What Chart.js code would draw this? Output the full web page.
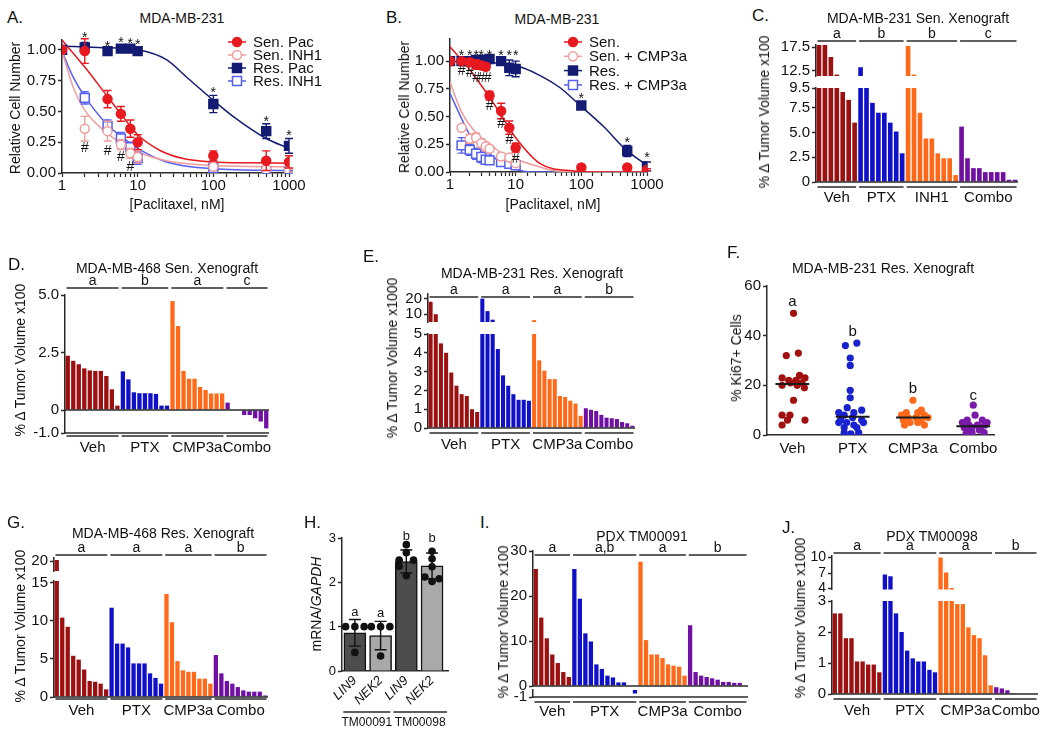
<!DOCTYPE html>
<html lang="en">
<head>
<meta charset="UTF-8">
<title>Figure</title>
<style>
  body { margin: 0; background: #fff; }
  #fig { position: relative; width: 1050px; height: 733px; overflow: hidden;
         font-family: 'Liberation Sans', Arial, Helvetica, sans-serif; color: #111; }
  .box { position: absolute; }
  .t { position: absolute; white-space: nowrap; line-height: 1; z-index: 2; }
</style>
</head>
<body>
<div id="fig"></div>

<script src="https://cdn.jsdelivr.net/npm/chart.js@4.4.1/dist/chart.umd.min.js"></script>
<script>
// ---------- A: MDA-MB-231, paclitaxel / INH1 dose response
const doseA = [1, 2, 4, 6, 8, 10, 100, 500, 1000];
const senPacA = [1.00, 0.99, 0.60, 0.48, 0.36, 0.25, 0.14, 0.10, 0.09];
const senPacErrA = [0, 0.10, 0.07, 0.06, 0.07, 0.06, 0.04, 0.08, 0.05];
const senInhA = [1.00, 0.36, 0.34, 0.23, 0.16, 0.13, 0.05, 0.03, 0.02];
const senInhErrA = [0, 0.10, 0.08, 0.04, 0.04, 0.05, 0.02, 0.01, 0.01];
const resPacA = [1.00, 1.02, 0.99, 1.01, 1.01, 0.99, 0.56, 0.34, 0.22];
const resPacErrA = [0, 0.04, 0.02, 0.03, 0.02, 0.02, 0.07, 0.06, 0.06];
const resInhA = [1.00, 0.61, 0.38, 0.28, 0.21, 0.12, 0.04, 0.01, 0.01];
const resInhErrA = [0, 0.05, 0.05, 0.05, 0.04, 0.05, 0.02, 0.01, 0.01];
// fitted curves
const fitXSenPacA = [1, 2, 4, 6, 10, 19.5, 40, 100, 300, 1000];
const fitYSenPacA = [1.08, 0.86, 0.62, 0.48, 0.31, 0.185, 0.117, 0.09, 0.083, 0.08];
const fitXSenInhA = [1, 1.4, 2, 4, 6, 10, 24, 100, 1000];
const fitYSenInhA = [0.99, 0.70, 0.51, 0.32, 0.245, 0.17, 0.10, 0.06, 0.05];
const fitXResPacA = [1, 3, 10, 24, 44, 100, 182, 500, 1000];
const fitYResPacA = [1.03, 1.02, 1.00, 0.92, 0.78, 0.59, 0.46, 0.28, 0.20];
const fitXResInhA = [1, 1.4, 2, 4, 6, 10, 24, 100, 1000];
const fitYResInhA = [0.99, 0.78, 0.62, 0.39, 0.30, 0.20, 0.09, 0.035, 0.02];
const starXA = [2, 4, 6, 8, 10, 100, 500, 1000];
const starYA = [1.12, 1.05, 1.08, 1.07, 1.06, 0.67, 0.44, 0.32];
const hashXA = [2, 4, 6, 8];
const hashYA = [0.20, 0.18, 0.13, 0.05];

// ---------- B: MDA-MB-231, paclitaxel +/- CMP3a
const doseB = [1, 1.5, 2, 2.5, 3, 3.5, 4, 6, 8, 10, 100, 500, 1000];
const senB = [1.00, 1.00, 0.99, 0.97, 0.96, 0.95, 0.69, 0.55, 0.40, 0.22, 0.04, 0.04, 0.02];
const senErrB = [0, 0.02, 0.03, 0.04, 0.03, 0.03, 0.04, 0.07, 0.06, 0.04, 0.01, 0.02, 0.01];
const resB = [1.00, 1.00, 1.00, 1.01, 1.01, 1.01, 1.02, 1.00, 0.94, 0.93, 0.60, 0.19, 0.05];
const resErrB = [0, 0.02, 0.02, 0.02, 0.02, 0.02, 0.02, 0.02, 0.07, 0.07, 0.03, 0.05, 0.04];
const doseB2 = [1.5, 2, 2.5, 3, 3.5, 4, 6, 8, 10];
const senCmpB = [0.40, 0.30, 0.31, 0.26, 0.23, 0.21, 0.14, 0.13, 0.08];
const senCmpErrB = [0.02, 0.04, 0.04, 0.04, 0.04, 0.03, 0.03, 0.03, 0.02];
const resCmpB = [0.24, 0.20, 0.165, 0.135, 0.11, 0.105, 0.09, 0.075, 0.06];
const resCmpErrB = [0.07, 0.05, 0.05, 0.05, 0.03, 0.03, 0.03, 0.03, 0.02];
const fitXSenB = [1, 1.9, 3, 3.93, 5.79, 7.75, 9.7, 23.6, 76, 200, 1000];
const fitYSenB = [1.13, 0.94, 0.78, 0.68, 0.53, 0.41, 0.32, 0.075, 0.01, 0, 0];
const fitXSenCmpB = [1, 1.45, 1.9, 2.87, 3.93, 5.79, 9.7, 23.6, 42, 1000];
const fitYSenCmpB = [0.81, 0.56, 0.44, 0.32, 0.26, 0.18, 0.12, 0.045, 0.01, 0];
const fitXResB = [1, 9.8, 23.6, 47.5, 96, 218, 480, 1000];
const fitYResB = [1.00, 0.96, 0.87, 0.76, 0.60, 0.41, 0.20, 0.06];
const fitXResCmpB = [1, 1.45, 1.9, 2.87, 3.93, 5.79, 9.7, 16.9, 1000];
const fitYResCmpB = [0.71, 0.50, 0.36, 0.23, 0.17, 0.09, 0.03, 0, 0];
const starXB = [1.5, 2, 2.5, 3, 4, 6, 8, 10, 100, 500, 1000];
const starYB = [1.075, 1.075, 1.075, 1.075, 1.075, 1.075, 1.075, 1.075, 0.68, 0.29, 0.15];
const hashXB = [1.5, 2, 2.5, 3, 3.75, 4, 6, 8, 10];
const hashYB = [0.91, 0.89, 0.85, 0.85, 0.85, 0.59, 0.43, 0.29, 0.12];

// ---------- waterfall panels (% change in tumour volume, one bar per tumour)
const vehC = [18, 18, 15.4, 11.6, 9.1, 8.3, 6.0];
const ptxC = [13.2, 10.5, 8.0, 7.0, 7.0, 6.0, 5.1, 2.9];
const inhC = [17.8, 11.6, 7.0, 4.4, 4.4, 2.9, 2.4, 2.4, 0.7];
const comboC = [5.6, 2.4, 1.4, 1.4, 1.0, 1.0, 1.0, 1.0, 0.23, 0.23];

const vehD = [2.36, 2.14, 1.99, 1.81, 1.72, 1.70, 1.70, 1.48, 0.9, 0.19];
const ptxD = [1.68, 1.33, 0.77, 0.73, 0.73, 0.73, 0.70, 0.19, 0.19];
const cmpD = [4.74, 3.65, 1.70, 1.36, 1.36, 1.0, 0.87, 0.72, 0.72, 0.72];
const comboD = [0.32, 0.02, -0.02, -0.22, -0.22, -0.36, -0.5, -0.8];

const vehE = [18, 10, 4.5, 4.0, 2.95, 2.25, 1.8, 1.7, 1.0, 0.85];
const ptxE = [20, 12, 6.5, 4.2, 2.8, 2.25, 1.8, 1.5, 1.5, 1.45];
const cmpE = [6.2, 3.6, 3.05, 2.6, 2.6, 1.7, 1.65, 1.45, 1.3, 0.65];
const comboE = [1.05, 0.97, 0.9, 0.7, 0.55, 0.52, 0.48, 0.32, 0.25, 0.12];

const vehG = [20.2, 10.4, 9.2, 5.4, 4.9, 3.6, 2.1, 2.0, 1.75, 1.0];
const ptxG = [11.7, 7.0, 7.0, 6.5, 4.4, 4.4, 4.4, 3.1, 2.5, 1.75];
const cmpG = [13.5, 9.8, 4.7, 3.5, 3.3, 3.3, 2.4, 2.4, 1.75];
const comboG = [5.5, 3.1, 2.1, 1.75, 1.3, 0.87, 0.7, 0.7, 0.7, 0.2];

const vehI = [26.0, 15.2, 10.6, 7.0, 5.1, 3.1, 2.0];
const ptxI = [26.0, 19.4, 11.7, 9.9, 4.8, 3.8, 2.3, 1.9, 0.8, 0.8, 0, -0.5];
const cmpI = [27.6, 10.2, 7.0, 7.0, 6.2, 4.8, 4.5, 4.3, 2.3];
const comboI = [13.5, 3.1, 2.3, 2.0, 1.7, 1.4, 0.9, 0.9, 0.7, 0.7, 0.1];

const vehJ = [2.6, 2.6, 1.8, 1.8, 1.05, 1.05, 0.95, 0.95, 0.7];
const ptxJ = [6.7, 6.4, 2.6, 2.0, 1.4, 1.15, 1.05, 1.05, 0.78, 0.7];
const cmpJ = [10, 7.1, 4.1, 2.9, 2.9, 2.15, 1.9, 1.8, 1.25, 0.28];
const comboJ = [0.22, 0.18, 0.12, 0.03, 0.02, 0.02, 0.02, 0.02];

// ---------- F: Ki67 dot plot
const groupsF = ['Veh', 'PTX', 'CMP3a', 'Combo'];
const vehF = [49, 33, 32, 24, 23, 23, 22, 22, 21, 21, 20, 20, 19, 14, 8, 8, 6, 6, 4];
const vehFx = [0.02, 0.10, -0.10, 0.12, 0.21, -0.17, -0.06, 0.06, -0.03, 0.16, -0.17, 0.08, 0.20, 0.02, -0.17, -0.04, -0.08, 0.21, -0.17];
const ptxF = [37, 36, 31, 28, 18, 15, 11, 10, 9, 9, 8, 7, 6, 6, 5, 5, 5, 4, 3, 3, 1, 1, 0.5];
const ptxFx = [0.07, -0.12, -0.04, -0.04, -0.04, -0.04, -0.09, 0.15, -0.23, 0.02, -0.14, 0.0, -0.2, 0.15, -0.23, -0.1, 0.18, 0.02, -0.14, 0.07, -0.14, 0.1, -0.03];
const cmpF = [14, 10, 9, 9, 8, 8, 7, 7, 7, 6, 6, 5, 5, 4, 4];
const cmpFx = [0.0, 0.14, -0.11, 0.08, -0.19, 0.19, -0.08, 0.05, 0.25, -0.16, 0.14, -0.05, 0.08, -0.14, 0.19];
const comboF = [12, 8, 6, 6, 5, 5, 4, 4, 4, 3, 3, 3, 2, 2, 1, 1, 0.5];
const comboFx = [0.0, 0.03, -0.1, 0.15, -0.18, 0.23, -0.07, 0.07, 0.2, -0.15, -0.02, 0.12, -0.07, 0.1, -0.02, 0.18, -0.12];
const medianF = [20.5, 7.3, 7.0, 3.5];
const letterF = ['a', 'b', 'b', 'c'];
const letterYF = [53.5, 41.5, 18.5, 15.8];

// ---------- H: LIN9 / NEK2 mRNA in PDX lines
const genesH = ['LIN9', 'NEK2', 'LIN9', 'NEK2'];
const modelsH = ['TM00091', 'TM00098'];
const meanH = [0.86, 0.80, 2.47, 2.37];
const sdH = [0.30, 0.32, 0.26, 0.29];
const dotH = [[1.0, 1.0, 1.0, 0.42], [1.0, 1.0, 1.0, 0.34], [2.85, 2.67, 2.5, 2.5, 2.36, 2.15], [2.7, 2.53, 2.35, 2.12, 2.08, 2.02]];
const dotHx = [[-0.36, 0, 0.36, 0], [-0.36, 0, 0.36, 0], [0, 0, -0.28, 0.28, -0.28, 0], [0, 0, 0, -0.28, 0.28, 0]];
const letterH = ['a', 'a', 'b', 'b'];
const letterYH = [1.33, 1.30, 3.03, 2.98];

// ---------- styles
const FONT = "'Liberation Sans', Arial, Helvetica, sans-serif";
const RED = '#e8191f', PINK = '#f29c9c', NAVY = '#131b73', BLUE = '#5660ee';
const VEH = '#9b1010', PTXC = '#1010c8', ORG = '#ff6a1a', PUR = '#6f10a2';
const INK = '#111', AX = '#2a2a2a';

Chart.defaults.font.family = FONT;
Chart.defaults.font.size = 15;
Chart.defaults.color = INK;
Chart.defaults.animation = false;
Chart.defaults.maintainAspectRatio = false;
Chart.defaults.plugins.legend.display = false;
Chart.defaults.plugins.tooltip.enabled = false;

const fig = document.getElementById('fig');

function box(l, t, w, h) {
    const d = document.createElement('div');
    d.className = 'box';
    Object.assign(d.style, {left: l + 'px', top: t + 'px', width: w + 'px', height: h + 'px'});
    const c = document.createElement('canvas');
    d.appendChild(c);
    fig.appendChild(d);
    return c;
}

function text(s, x, y, o = {}) {
    const d = document.createElement('div');
    d.className = 't';
    d.innerHTML = s;
    let tr = o.left ? 'translate(0,-50%)' : 'translate(-50%,-50%)';
    if (o.rot) tr += ' rotate(-90deg)';
    Object.assign(d.style, {left: x + 'px', top: y + 'px', fontSize: (o.size || 14) + 'px', transform: tr});
    fig.appendChild(d);
}

function yAxis(min, max, ticks, fmt, w, size = 15) {
    return {
        min, max,
        afterBuildTicks: s => { s.ticks = ticks.map(v => ({value: v})); },
        afterFit: s => { s.width = w; },
        ticks: {callback: v => fmt(v), padding: 2, autoSkip: false, font: {size}, color: INK},
        grid: {drawOnChartArea: false, color: AX, tickLength: 4, tickWidth: 1.5},
        border: {color: AX, width: 1.5}
    };
}

const fmt1 = v => v === 0 ? '0' : v.toFixed(1);

function drawMarker(ctx, x, y, s) {
    ctx.beginPath();
    if (s.shape === 'rect') ctx.rect(x - 4.5, y - 4.5, 9, 9);
    else ctx.arc(x, y, 4.5, 0, Math.PI * 2);
    ctx.fillStyle = s.open ? '#fff' : s.color;
    ctx.fill();
    ctx.lineWidth = 1.5;
    ctx.strokeStyle = s.color;
    ctx.stroke();
}

// dose-response panel (A, B)
function curvePanel(cfg) {
    const aw = 50, padT = 12, padB = 4, xh = 26;
    const left = cfg.L - aw, top = cfg.T - padT;
    const w = cfg.right - left, h = cfg.B - top + xh + padB;
    const cv = box(left, top, w, h);
    const pts = cfg.series.map(s => ({
        data: s.x.map((v, i) => ({x: v, y: s.y[i]})), err: s.err, showLine: false,
        pointStyle: s.shape, pointRadius: s.shape === 'rect' ? 6.3 : 4.5,
        backgroundColor: s.open ? '#fff' : s.color, borderColor: s.color, borderWidth: 1.5
    }));
    const fits = cfg.series.map(s => ({
        data: s.fx.map((v, i) => ({x: v, y: s.fy[i]})), showLine: true, pointRadius: 0,
        borderColor: s.color, borderWidth: 1.5, cubicInterpolationMode: 'monotone'
    }));
    new Chart(cv, {
        type: 'scatter',
        data: {datasets: pts.concat(fits)},
        options: {
            layout: {padding: {top: padT, bottom: padB, left: 0, right: cfg.right - cfg.R}},
            scales: {
                x: {
                    type: 'logarithmic', min: 1, max: 1000,
                    afterFit: s => { s.height = xh; },
                    ticks: {autoSkip: false, maxRotation: 0, padding: 0,
                        callback: v => ([1, 10, 100, 1000].includes(v) ? String(v) : '')},
                    grid: {drawOnChartArea: false, color: AX, tickLength: 4, tickWidth: 1.2},
                    border: {color: AX, width: 1.5}
                },
                y: yAxis(0, cfg.ymax, [0, 0.25, 0.5, 0.75, 1], v => v.toFixed(2), aw)
            }
        },
        plugins: [{
            id: 'errbars',
            beforeDatasetDraw(chart, args) {
                const ds = chart.data.datasets[args.index];
                if (!ds.err) return;
                const {x, y} = chart.scales, ctx = chart.ctx;
                ctx.save();
                ctx.strokeStyle = ds.borderColor;
                ctx.lineWidth = 1.4;
                ds.data.forEach((p, i) => {
                    const e = ds.err[i];
                    if (!e) return;
                    const px = x.getPixelForValue(p.x);
                    const y1 = y.getPixelForValue(p.y - e), y2 = y.getPixelForValue(p.y + e);
                    ctx.beginPath();
                    ctx.moveTo(px, y1); ctx.lineTo(px, y2);
                    ctx.moveTo(px - 4, y1); ctx.lineTo(px + 4, y1);
                    ctx.moveTo(px - 4, y2); ctx.lineTo(px + 4, y2);
                    ctx.stroke();
                });
                ctx.restore();
            }
        }, {
            id: 'marks',
            afterDatasetsDraw(chart) {
                const {x, y} = chart.scales, ctx = chart.ctx;
                ctx.save();
                ctx.fillStyle = INK;
                ctx.textAlign = 'center';
                ctx.textBaseline = 'middle';
                cfg.marks.forEach(m => {
                    ctx.font = `${m.size}px ${FONT}`;
                    m.x.forEach((xv, i) => ctx.fillText(m.s, x.getPixelForValue(xv), y.getPixelForValue(m.y[i]) + m.dy));
                });
                ctx.restore();
            }
        }, {
            id: 'legendbox',
            afterDraw(chart) {
                const ctx = chart.ctx;
                ctx.save();
                cfg.series.forEach((s, i) => {
                    const lx = cfg.legend.x - left, ly = cfg.legend.y + i * cfg.legend.dy - top;
                    ctx.strokeStyle = s.color;
                    ctx.lineWidth = 1.5;
                    ctx.beginPath(); ctx.moveTo(lx, ly); ctx.lineTo(lx + 18, ly); ctx.stroke();
                    drawMarker(ctx, lx + 9, ly, s);
                    ctx.fillStyle = INK;
                    ctx.font = `15px ${FONT}`;
                    ctx.textAlign = 'left';
                    ctx.textBaseline = 'middle';
                    ctx.fillText(s.label, lx + 25, ly + 1);
                });
                ctx.restore();
            }
        }]
    });
}

// waterfall bar panel with optional broken y axis (segments listed top to bottom)
function barPanel(cfg) {
    const vals = [], cols = [], spans = [];
    cfg.groups.forEach(g => {
        const s = vals.length;
        g.vals.forEach(v => { vals.push(v); cols.push(g.color); });
        spans.push({s, e: vals.length - 1, g});
    });
    const labels = vals.map((v, i) => String(i));
    const aw = 46;
    cfg.segs.forEach((sg, k) => {
        const first = k === 0, last = k === cfg.segs.length - 1;
        const padT = first ? Math.max(10, sg.top - cfg.topLine + 20) : 10;
        const padB = last ? cfg.labelY - sg.bottom + 12 : 10;
        const left = cfg.L - aw, top = sg.top - padT;
        const cv = box(left, top, cfg.R - cfg.L + aw + 4, sg.bottom - sg.top + padT + padB);
        new Chart(cv, {
            type: 'bar',
            data: {labels, datasets: [{data: vals, backgroundColor: cols, barPercentage: 0.78, categoryPercentage: 1, clip: 0}]},
            options: {
                layout: {padding: {top: padT, bottom: padB, left: 0, right: 4}},
                scales: {x: {display: false}, y: yAxis(sg.min, sg.max, sg.ticks, cfg.fmt, aw, sg.size || 15)}
            },
            plugins: [{
                id: 'groups',
                afterDraw(chart) {
                    const ctx = chart.ctx, xs = chart.scales.x, ys = chart.scales.y, ca = chart.chartArea;
                    ctx.save();
                    ctx.strokeStyle = AX;
                    ctx.lineWidth = 1.5;
                    (sg.hl || []).forEach(v => {
                        const y = ys.getPixelForValue(v);
                        ctx.beginPath(); ctx.moveTo(ca.left, y); ctx.lineTo(ca.right, y); ctx.stroke();
                    });
                    const slot = xs.getPixelForValue(1) - xs.getPixelForValue(0);
                    ctx.fillStyle = INK;
                    ctx.textAlign = 'center';
                    spans.forEach(sp => {
                        const x1 = xs.getPixelForValue(sp.s) - slot / 2 + 1.5;
                        const x2 = xs.getPixelForValue(sp.e) + slot / 2 - 1.5;
                        const xm = (x1 + x2) / 2;
                        if (first) {
                            const y = cfg.topLine - top;
                            ctx.beginPath(); ctx.moveTo(x1, y); ctx.lineTo(x2, y); ctx.stroke();
                            ctx.font = `14px ${FONT}`;
                            ctx.textBaseline = 'alphabetic';
                            ctx.fillText(sp.g.letter, xm, y - 3);
                        }
                        if (last) {
                            const y = cfg.botLine - top;
                            ctx.beginPath(); ctx.moveTo(x1, y); ctx.lineTo(x2, y); ctx.stroke();
                            ctx.font = `15px ${FONT}`;
                            ctx.textBaseline = 'middle';
                            ctx.fillText(sp.g.name, xm, cfg.labelY - top);
                        }
                    });
                    ctx.restore();
                }
            }]
        });
    });
}

// ---------------- panels
curvePanel({
    L: 62, R: 289, T: 40, B: 173, right: 332, ymax: 1.08,
    legend: {x: 228, y: 42, dy: 13},
    series: [
        {label: 'Sen. Pac', x: doseA, y: senPacA, err: senPacErrA, fx: fitXSenPacA, fy: fitYSenPacA, color: RED, shape: 'circle', open: false},
        {label: 'Sen. INH1', x: doseA, y: senInhA, err: senInhErrA, fx: fitXSenInhA, fy: fitYSenInhA, color: PINK, shape: 'circle', open: true},
        {label: 'Res. Pac', x: doseA, y: resPacA, err: resPacErrA, fx: fitXResPacA, fy: fitYResPacA, color: NAVY, shape: 'rect', open: false},
        {label: 'Res. INH1', x: doseA, y: resInhA, err: resInhErrA, fx: fitXResInhA, fy: fitYResInhA, color: BLUE, shape: 'rect', open: true}
    ],
    marks: [{s: '*', x: starXA, y: starYA, size: 14, dy: 3}, {s: '#', x: hashXA, y: hashYA, size: 14, dy: 0}]
});

curvePanel({
    L: 450, R: 647, T: 39, B: 172, right: 690, ymax: 1.2,
    legend: {x: 564, y: 42, dy: 14.3},
    series: [
        {label: 'Sen.', x: doseB, y: senB, err: senErrB, fx: fitXSenB, fy: fitYSenB, color: RED, shape: 'circle', open: false},
        {label: 'Sen. + CMP3a', x: doseB2, y: senCmpB, err: senCmpErrB, fx: fitXSenCmpB, fy: fitYSenCmpB, color: PINK, shape: 'circle', open: true},
        {label: 'Res.', x: doseB, y: resB, err: resErrB, fx: fitXResB, fy: fitYResB, color: NAVY, shape: 'rect', open: false},
        {label: 'Res. + CMP3a', x: doseB2, y: resCmpB, err: resCmpErrB, fx: fitXResCmpB, fy: fitYResCmpB, color: BLUE, shape: 'rect', open: true}
    ],
    marks: [{s: '*', x: starXB, y: starYB, size: 14, dy: 3}, {s: '#', x: hashXB, y: hashYB, size: 14, dy: 0}]
});

barPanel({
    L: 816, R: 1018, topLine: 41, botLine: 187, labelY: 198, fmt: fmt1,
    groups: [
        {name: 'Veh', letter: 'a', vals: vehC, color: VEH},
        {name: 'PTX', letter: 'b', vals: ptxC, color: PTXC},
        {name: 'INH1', letter: 'b', vals: inhC, color: ORG},
        {name: 'Combo', letter: 'c', vals: comboC, color: PUR}
    ],
    segs: [
        {top: 45, bottom: 77, min: 11.3, max: 18, ticks: [12.5, 17.5]},
        {top: 87, bottom: 182, min: 0, max: 9.5, ticks: [0, 2.5, 5, 7.5, 9.5], hl: [0]}
    ]
});

barPanel({
    L: 65, R: 269, topLine: 288, botLine: 436, labelY: 448, fmt: fmt1,
    groups: [
        {name: 'Veh', letter: 'a', vals: vehD, color: VEH},
        {name: 'PTX', letter: 'b', vals: ptxD, color: PTXC},
        {name: 'CMP3a', letter: 'a', vals: cmpD, color: ORG},
        {name: 'Combo', letter: 'c', vals: comboD, color: PUR}
    ],
    segs: [{top: 295, bottom: 433, min: -1, max: 5, ticks: [-1, 0, 2.5, 5], hl: [0, -1]}]
});

barPanel({
    L: 428, R: 635, topLine: 297, botLine: 433, labelY: 445, fmt: String,
    groups: [
        {name: 'Veh', letter: 'a', vals: vehE, color: VEH},
        {name: 'PTX', letter: 'a', vals: ptxE, color: PTXC},
        {name: 'CMP3a', letter: 'a', vals: cmpE, color: ORG},
        {name: 'Combo', letter: 'b', vals: comboE, color: PUR}
    ],
    segs: [
        {top: 294, bottom: 323, min: 5, max: 23, ticks: [10, 20]},
        {top: 333, bottom: 428, min: 0, max: 5, ticks: [0, 1, 2, 3, 4, 5], hl: [0]}
    ]
});

barPanel({
    L: 54, R: 268, topLine: 555, botLine: 699, labelY: 711, fmt: String,
    groups: [
        {name: 'Veh', letter: 'a', vals: vehG, color: VEH},
        {name: 'PTX', letter: 'a', vals: ptxG, color: PTXC},
        {name: 'CMP3a', letter: 'a', vals: cmpG, color: ORG},
        {name: 'Combo', letter: 'b', vals: comboG, color: PUR}
    ],
    segs: [
        {top: 558, bottom: 572, min: 18.5, max: 20.5, ticks: [20]},
        {top: 580, bottom: 697, min: 0, max: 15.2, ticks: [0, 5, 10, 15], hl: [0]}
    ]
});

barPanel({
    L: 533, R: 748, topLine: 555, botLine: 702, labelY: 712, fmt: String,
    groups: [
        {name: 'Veh', letter: 'a', vals: vehI, color: VEH},
        {name: 'PTX', letter: 'a,b', vals: ptxI, color: PTXC},
        {name: 'CMP3a', letter: 'a', vals: cmpI, color: ORG},
        {name: 'Combo', letter: 'b', vals: comboI, color: PUR}
    ],
    segs: [
        {top: 551, bottom: 687, min: 0, max: 30, ticks: [0, 10, 20, 30], hl: [0]},
        {top: 689, bottom: 697, min: -1, max: 0, ticks: [-1], hl: [-1]}
    ]
});

barPanel({
    L: 832, R: 1038, topLine: 553, botLine: 699, labelY: 711, fmt: String,
    groups: [
        {name: 'Veh', letter: 'a', vals: vehJ, color: VEH},
        {name: 'PTX', letter: 'a', vals: ptxJ, color: PTXC},
        {name: 'CMP3a', letter: 'a', vals: cmpJ, color: ORG},
        {name: 'Combo', letter: 'b', vals: comboJ, color: PUR}
    ],
    segs: [
        {top: 556, bottom: 590, min: 3.8, max: 10.3, ticks: [4, 7, 10], size: 14},
        {top: 600, bottom: 694, min: 0, max: 3, ticks: [0, 1, 2, 3], hl: [0]}
    ]
});

// F: dot plot
(function () {
    const colsF = ['#a01010', '#1a22d0', '#ff6a1a', '#7a1aa8'];
    const valsF = [vehF, ptxF, cmpF, comboF];
    const offF = [vehFx, ptxFx, cmpFx, comboFx];
    const medians = medianF.map((m, i) => ({
        type: 'line', data: [{x: i + 1 - 0.28, y: m}, {x: i + 1 + 0.28, y: m}],
        borderColor: '#1a1a1a', borderWidth: 2, pointRadius: 0, showLine: true
    }));
    const dots = valsF.map((vs, g) => ({
        data: vs.map((v, i) => ({x: g + 1 + offF[g][i], y: v})),
        backgroundColor: colsF[g], borderWidth: 0, pointRadius: 3.6
    }));
    const L = 767, T = 286, B = 435, R = 997, aw = 40;
    const cv = box(L - aw, T - 12, R - L + aw + 6, B - T + 12 + 28);
    new Chart(cv, {
        type: 'scatter',
        data: {datasets: medians.concat(dots)},
        options: {
            layout: {padding: {top: 12, bottom: 2, left: 0, right: 6}},
            scales: {
                x: {
                    type: 'linear', min: 0.58, max: 4.36,
                    afterBuildTicks: s => { s.ticks = [1, 2, 3, 4].map(v => ({value: v})); },
                    afterFit: s => { s.height = 26; },
                    ticks: {callback: v => groupsF[v - 1], padding: 5, autoSkip: false, maxRotation: 0},
                    grid: {drawOnChartArea: false, drawTicks: false},
                    border: {color: AX, width: 1.5}
                },
                y: yAxis(0, 60, [0, 20, 40, 60], String, aw)
            }
        },
        plugins: [{
            id: 'letters',
            afterDatasetsDraw(chart) {
                const {x, y} = chart.scales, ctx = chart.ctx;
                ctx.save();
                ctx.fillStyle = INK;
                ctx.font = `15px ${FONT}`;
                ctx.textAlign = 'center';
                ctx.textBaseline = 'middle';
                letterF.forEach((l, i) => ctx.fillText(l, x.getPixelForValue(i + 1), y.getPixelForValue(letterYF[i])));
                ctx.restore();
            }
        }]
    });
})();

// H: bars with dots and SD
(function () {
    const L = 342, T = 538, B = 671, R = 448, aw = 22;
    const left = L - aw, top = T - 10;
    const cv = box(left, top, R - L + aw + 4, B - top + 34 + 28);
    const dots = [];
    dotH.forEach((vs, i) => vs.forEach((v, j) => dots.push({x: i + 1 + dotHx[i][j], y: v})));
    new Chart(cv, {
        type: 'bar',
        data: {datasets: [
            {type: 'scatter', data: dots, backgroundColor: '#111', borderWidth: 0, pointRadius: 3.8},
            {type: 'bar', data: meanH.map((m, i) => ({x: i + 1, y: m})),
             backgroundColor: ['#4d4d4d', '#a9a9a9', '#4d4d4d', '#a9a9a9'],
             borderColor: '#111', borderWidth: 1.5, barThickness: 22}
        ]},
        options: {
            layout: {padding: {top: 10, bottom: 28, left: 0, right: 4}},
            scales: {
                x: {
                    type: 'linear', min: 0.5, max: 4.62, offset: false,
                    afterBuildTicks: s => { s.ticks = [1, 2, 3, 4].map(v => ({value: v})); },
                    afterFit: s => { s.height = 34; },
                    ticks: {callback: v => genesH[v - 1], minRotation: 45, maxRotation: 45, padding: 2,
                        autoSkip: false, font: {size: 13, style: 'italic'}},
                    grid: {drawOnChartArea: false, drawTicks: false, offset: false},
                    border: {color: AX, width: 1.5}
                },
                y: yAxis(0, 3, [0, 1, 2, 3], String, aw, 13)
            }
        },
        plugins: [{
            id: 'sd',
            beforeDatasetDraw(chart, args) {
                if (args.index !== 0) return;
                const {x, y} = chart.scales, ctx = chart.ctx;
                ctx.save();
                ctx.strokeStyle = '#111';
                ctx.lineWidth = 1.4;
                meanH.forEach((m, i) => {
                    const px = x.getPixelForValue(i + 1);
                    const y1 = y.getPixelForValue(m - sdH[i]), y2 = y.getPixelForValue(m + sdH[i]);
                    ctx.beginPath();
                    ctx.moveTo(px, y1); ctx.lineTo(px, y2);
                    ctx.moveTo(px - 6, y1); ctx.lineTo(px + 6, y1);
                    ctx.moveTo(px - 6, y2); ctx.lineTo(px + 6, y2);
                    ctx.stroke();
                });
                ctx.restore();
            },
            afterDraw(chart) {
                const {x, y} = chart.scales, ctx = chart.ctx;
                ctx.save();
                ctx.fillStyle = INK;
                ctx.textAlign = 'center';
                ctx.font = `13px ${FONT}`;
                ctx.textBaseline = 'middle';
                letterH.forEach((l, i) => ctx.fillText(l, x.getPixelForValue(i + 1), y.getPixelForValue(letterYH[i])));
                ctx.strokeStyle = AX;
                ctx.lineWidth = 1.3;
                ctx.font = `12px ${FONT}`;
                const spans = [[0.55, 2.38], [2.5, 4.58]];
                spans.forEach((sp, i) => {
                    const x1 = x.getPixelForValue(sp[0]), x2 = x.getPixelForValue(sp[1]);
                    ctx.beginPath(); ctx.moveTo(x1, 712 - top); ctx.lineTo(x2, 712 - top); ctx.stroke();
                    ctx.fillText(modelsH[i], (x1 + x2) / 2, 723 - top);
                });
                ctx.restore();
            }
        }]
    });
})();

// ---------------- titles, panel letters, axis titles
const dv = '% &Delta; Tumor Volume x100';
const dk = '% &Delta; Tumor Volume x1000';
text('A.', 7, 17, {left: true, size: 17});
text('MDA-MB-231', 182, 18);
text('Relative Cell Number', 15, 108, {rot: true});
text('[Paclitaxel, nM]', 177, 204);
text('B.', 386, 17, {left: true, size: 17});
text('MDA-MB-231', 557, 19);
text('Relative Cell Number', 404, 107, {rot: true});
text('[Paclitaxel, nM]', 553, 204);
text('C.', 752, 15, {left: true, size: 17});
text('MDA-MB-231 Sen. Xenograft', 918, 18);
text(dv, 764, 112, {rot: true});
text('D.', 8, 264, {left: true, size: 17});
text('MDA-MB-468 Sen. Xenograft', 167, 268);
text(dv, 20, 360, {rot: true});
text('E.', 363, 256, {left: true, size: 17});
text('MDA-MB-231 Res. Xenograft', 532, 273);
text(dk, 392, 358, {rot: true});
text('F.', 727, 252, {left: true, size: 17});
text('MDA-MB-231 Res. Xenograft', 883, 268);
text('% Ki67+ Cells', 736, 358, {rot: true});
text('G.', 7, 522, {left: true, size: 17});
text('MDA-MB-468 Res. Xenograft', 163, 533);
text(dv, 20, 626, {rot: true});
text('H.', 304, 522, {left: true, size: 17});
text('mRNA/<i>GAPDH</i>', 316, 604, {rot: true});
text('I.', 480, 522, {left: true, size: 17});
text('PDX TM00091', 642, 536);
text(dv, 503, 622, {rot: true});
text('J.', 782, 527, {left: true, size: 17});
text('PDX TM00098', 932, 536);
text(dk, 800, 618, {rot: true});
</script>
</body>
</html>
